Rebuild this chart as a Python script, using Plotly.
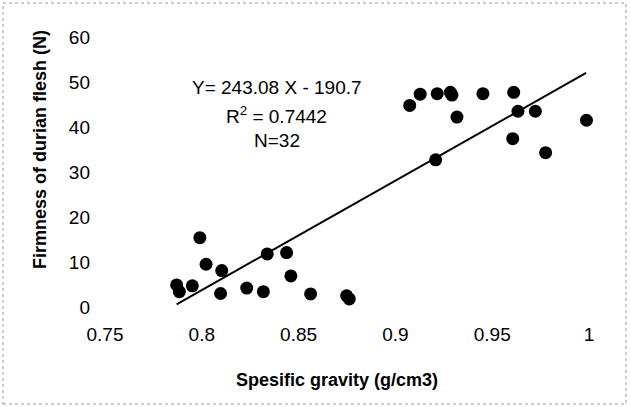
import plotly.graph_objects as go

# Observed data (specific gravity vs firmness)
spec_gravity = [0.7870, 0.7884, 0.7951, 0.7990, 0.8022, 0.8103, 0.8097, 0.8232,
                0.8318, 0.8338, 0.8438, 0.8460, 0.8562, 0.8748, 0.8762,
                0.9074, 0.9128, 0.9216, 0.9208, 0.9284, 0.9292, 0.9318, 0.9452,
                0.9611, 0.9606, 0.9633, 0.9723, 0.9776, 0.9987]
firmness = [4.9, 3.4, 4.7, 15.4, 9.5, 8.1, 3.0, 4.2,
            3.4, 11.8, 12.1, 6.9, 2.9, 2.5, 1.8,
            44.8, 47.3, 47.4, 32.7, 47.7, 47.1, 42.2, 47.4,
            47.7, 37.4, 43.5, 43.5, 34.3, 41.5]

# Regression line stated on the chart
slope = 243.08
intercept = -190.7
trend_x = [0.787, 0.9985]
trend_y = [slope * x + intercept for x in trend_x]

x_ticks = [0.75, 0.8, 0.85, 0.9, 0.95, 1.0]
x_tick_text = ["0.75", "0.8", "0.85", "0.9", "0.95", "1"]
y_ticks = [0, 10, 20, 30, 40, 50, 60]

FONT = "Liberation Sans, Arial, sans-serif"

fig = go.Figure()
fig.add_trace(go.Scatter(x=trend_x, y=trend_y, mode="lines",
                         line=dict(color="black", width=2),
                         hoverinfo="skip", showlegend=False, cliponaxis=False))
fig.add_trace(go.Scatter(x=spec_gravity, y=firmness, mode="markers",
                         marker=dict(color="black", size=13),
                         showlegend=False, cliponaxis=False))

L, R, T, B = 105, 42, 37, 100
W, H = 631, 407
pw, ph = W - L - R, H - T - B

def px(xp):
    return (xp - L) / pw

def py(yp):
    return (H - B - yp) / ph

fig.update_layout(
    width=W, height=H,
    margin=dict(l=L, r=R, t=T, b=B),
    paper_bgcolor="white", plot_bgcolor="white",
    font=dict(family=FONT, color="black"),
    xaxis=dict(range=[0.75, 1.0], tickvals=x_ticks, ticktext=x_tick_text,
               showgrid=False, zeroline=False, showline=False, ticks="",
               tickfont=dict(size=19, family=FONT), ticklabelstandoff=14),
    yaxis=dict(range=[0, 60], tickvals=y_ticks,
               showgrid=False, zeroline=False, showline=False, ticks="",
               tickfont=dict(size=19, family=FONT), ticklabelstandoff=14),
    shapes=[
        dict(type="rect", xref="paper", yref="paper",
             x0=px(3), x1=px(626), y0=py(404), y1=py(3),
             line=dict(color="#9a9a9a", width=1, dash="dot")),
    ],
    annotations=[
        dict(text="Y= 243.08 X - 190.7", x=0.8386, y=48.8, xref="x", yref="y",
             showarrow=False, font=dict(size=19, family=FONT)),
        dict(text="R<sup>2</sup> = 0.7442", x=0.8386, y=42.7, xref="x", yref="y",
             showarrow=False, font=dict(size=19, family=FONT)),
        dict(text="N=32", x=0.8386, y=37.0, xref="x", yref="y",
             showarrow=False, font=dict(size=19, family=FONT)),
        dict(text="<b>Spesific gravity (g/cm3)</b>", x=px(337), y=py(380),
             xref="paper", yref="paper", showarrow=False,
             xanchor="center", yanchor="middle", font=dict(size=18, family=FONT)),
        dict(text="<b>Firmness of durian flesh (N)</b>", x=px(40), y=py(150),
             xref="paper", yref="paper", showarrow=False, textangle=-90,
             xanchor="center", yanchor="middle", font=dict(size=18, family=FONT)),
    ],
)

fig.write_html("out.html",
               config={"displayModeBar": False},
               post_script="document.body.style.margin='0';document.body.style.overflow='hidden';")
